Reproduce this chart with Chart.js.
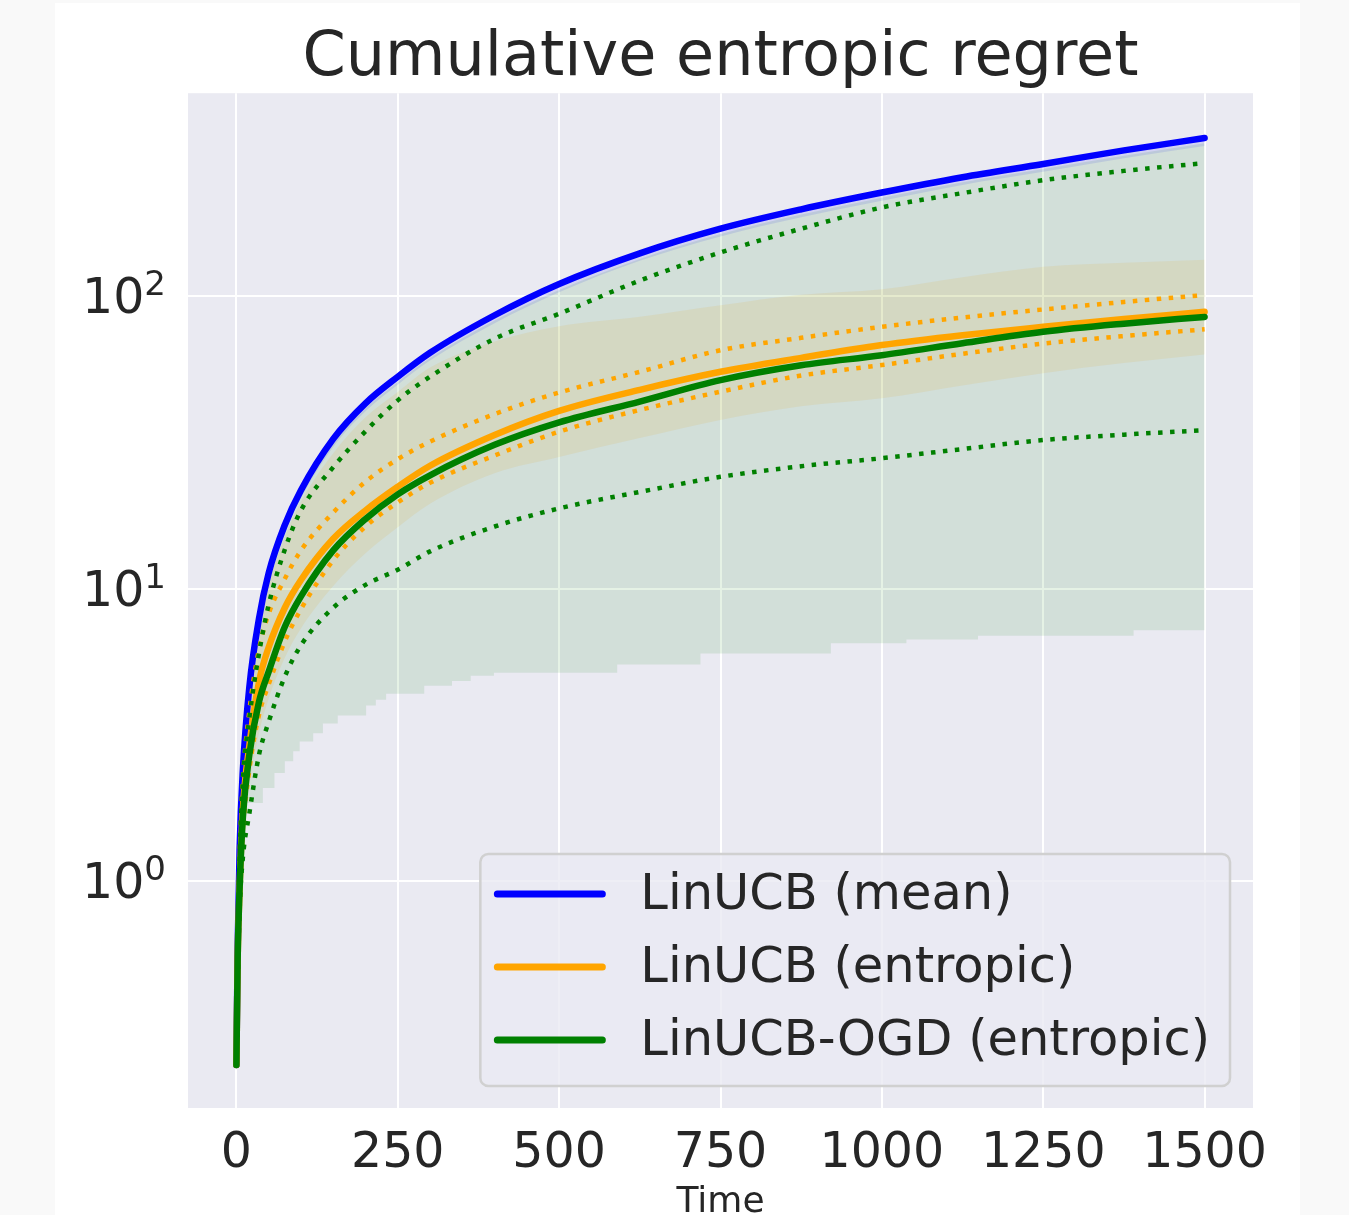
<!DOCTYPE html>
<html>
<head>
<meta charset="utf-8">
<title>Cumulative entropic regret</title>
<script src="https://cdn.jsdelivr.net/npm/chart.js@4.4.0/dist/chart.umd.min.js"></script>
<style>
  html, body { margin: 0; padding: 0; background: #f9f9f9; }
  #wrap { width: 1349px; height: 1215px; }
</style>
</head>
<body>
<div id="wrap"><canvas id="regret-chart" width="1349" height="1215"></canvas></div>
<script>
// time steps the curves were read at
const timeSteps = [0, 2, 5, 10, 20, 35, 50, 75, 100, 150, 200, 250, 300, 400, 500, 625, 750, 875, 1000, 1125, 1250, 1375, 1500];

// LinUCB (mean)
const meanLine     = [0.235, 0.6, 1.3, 2.4, 4.6, 7.9, 11.3, 16.5, 21.7, 32.5, 43, 53, 64, 86, 110, 140, 170, 198, 226, 255, 283, 315, 347];
const meanBandLow  = [0.235, 0.56, 1.22, 2.25, 4.3, 7.4, 10.6, 15.5, 20.4, 30.5, 40.4, 49.8, 60.2, 80.8, 103, 132, 160, 186, 212, 240, 266, 296, 326];

// LinUCB (entropic)
const entLine      = [0.235, 0.55, 0.95, 1.75, 2.9, 4.8, 6.3, 8.6, 10.7, 14.8, 18.5, 22.3, 26.3, 33.5, 40.5, 47.8, 55.1, 61.5, 68, 73.5, 78.5, 83.5, 88.4];
const entDotUp     = [0.235, 0.6, 1.2, 2.2, 3.8, 6.2, 8.2, 10.8, 13.5, 18.2, 23.2, 27.7, 31.8, 39.5, 46.8, 55.1, 65.3, 72, 78.5, 84.5, 90, 95.5, 100.8];
const entDotLow    = [0.235, 0.5, 0.85, 1.45, 2.4, 3.7, 4.7, 6.6, 8.5, 12.5, 16.3, 19.7, 23.0, 28.5, 34.4, 40.8, 47.1, 53.5, 58.1, 63.5, 68.8, 73, 77];
const entBandHigh  = [0.235, 0.6, 1.25, 2.3, 4.3, 7.3, 10.3, 15, 19.8, 29, 38.5, 47, 57, 70, 78.9, 85, 93, 101, 105.5, 116, 126, 130, 133];
const entBandLow   = [0.235, 0.45, 0.8, 1.3, 2.1, 3.2, 4.2, 5.8, 7.3, 10.2, 13.2, 16.2, 19.5, 24.8, 28.2, 32.7, 37.7, 42, 44.7, 49.5, 54.5, 59, 63.2];

// LinUCB-OGD (entropic)
const ogdLine      = [0.235, 0.55, 0.95, 1.65, 2.7, 4.1, 5.2, 7.4, 9.4, 13.5, 17.3, 21.0, 24.4, 31.0, 37, 43.6, 51.6, 58, 62.8, 69, 75.5, 80.5, 84.9];
const ogdDotUp     = [0.235, 0.6, 1.2, 2.2, 3.6, 6.0, 8.8, 13.6, 18.5, 26, 34.5, 44, 53, 71.5, 87, 113, 141, 170, 201, 225, 249, 268, 285];
const ogdDotLow    = [0.235, 0.45, 0.8, 1.2, 1.7, 2.7, 3.5, 5.0, 6.4, 8.6, 10.3, 11.6, 13.4, 16.3, 18.8, 21.4, 24.1, 26.2, 27.9, 30, 32.2, 33.6, 34.8];
const ogdBandHigh  = [0.235, 0.58, 1.25, 2.3, 4.4, 7.6, 10.8, 15.8, 20.8, 31.2, 41.3, 50.8, 61.4, 82.5, 105, 134, 163, 190, 217, 245, 272, 302, 333];
const ogdLowTimes  = [0, 5, 10, 15, 41, 59, 75, 88, 98, 119, 134, 157, 201, 216, 232, 291, 334, 363, 399, 590, 719, 921, 1038, 1149, 1390, 1480, 1500];
const ogdBandLow   = [0.235, 0.8, 1.2, 1.63, 1.85, 2.08, 2.34, 2.57, 2.78, 3.0, 3.2, 3.46, 3.68, 3.98, 4.17, 4.37, 4.65, 4.83, 5.03, 5.15, 5.5, 6.0, 6.5, 6.7, 6.9, 7.2, 7.2];

const xTicks = [0, 250, 500, 750, 1000, 1250, 1500];
const yTickValues = [1, 10, 100];
const yTickBase = '10';
const yTickExponents = ['0', '1', '2'];

const FONT = '"DejaVu Sans", sans-serif';
const TEXT = '#262626';
const BLUE = '#0000ff', ORANGE = '#ffa500', GREEN = '#008000';
const NONE = 'rgba(0,0,0,0)';

const pts = (ys, xs = timeSteps) => xs.map((x, i) => ({ x: x, y: ys[i] }));

function meanSet(label, ys, color, order) {
  return { label: label, data: pts(ys), borderColor: color, backgroundColor: color, borderWidth: 6.5,
    borderCapStyle: 'round', cubicInterpolationMode: 'monotone', fill: false, order: order };
}
function dotSet(ys, color, order) {
  return { data: pts(ys), borderColor: color, borderWidth: 4.5, borderDash: [4.5, 7.5],
    borderCapStyle: 'butt', cubicInterpolationMode: 'monotone', fill: false, order: order };
}
function edgeSet(ys, order, extra) {
  return Object.assign({ data: pts(ys), borderColor: NONE, borderWidth: 1,
    cubicInterpolationMode: 'monotone', fill: false, order: order }, extra || {});
}

const plotBackground = {
  id: 'plotBackground',
  beforeDraw(chart) {
    const { ctx, chartArea: a } = chart;
    ctx.save();
    ctx.fillStyle = '#ffffff';
    ctx.fillRect(55, 3, 1245, chart.height - 3);
    ctx.fillStyle = '#eaeaf2';
    ctx.fillRect(a.left, a.top, a.right - a.left, a.bottom - a.top);
    ctx.restore();
  }
};

// y tick labels as 10 with a raised exponent, like the original
const yPowerLabels = {
  id: 'yPowerLabels',
  afterDraw(chart) {
    const { ctx } = chart;
    const s = chart.scales.y;
    ctx.save();
    ctx.fillStyle = TEXT;
    ctx.textAlign = 'right';
    ctx.textBaseline = 'alphabetic';
    s.ticks.forEach((t, i) => {
      const py = s.getPixelForValue(t.value);
      const right = s.right - 22;
      ctx.font = '34px ' + FONT;
      const ew = ctx.measureText(yTickExponents[i]).width;
      ctx.fillText(yTickExponents[i], right, py - 1);
      ctx.font = '49px ' + FONT;
      ctx.fillText(yTickBase, right - ew, py + 17);
    });
    ctx.restore();
  }
};

const boxLegend = {
  id: 'boxLegend',
  afterDraw(chart) {
    const { ctx, chartArea: a } = chart;
    const entries = chart.data.datasets.filter(d => d.label);
    ctx.save();
    ctx.font = '49.5px ' + FONT;
    const textW = Math.max(...entries.map(e => ctx.measureText(e.label).width));
    const w = 160 + textW + 20, h = 232;
    const x0 = a.right - 23 - w, y0 = a.bottom - 22 - h;
    ctx.beginPath();
    ctx.roundRect(x0, y0, w, h, 8);
    ctx.fillStyle = 'rgba(234,234,242,0.8)';
    ctx.fill();
    ctx.lineWidth = 2.5;
    ctx.strokeStyle = '#d0d0d0';
    ctx.stroke();
    entries.forEach((e, i) => {
      const cy = y0 + 40 + i * 73;
      ctx.beginPath();
      ctx.moveTo(x0 + 17, cy);
      ctx.lineTo(x0 + 122, cy);
      ctx.lineWidth = 7;
      ctx.lineCap = 'round';
      ctx.strokeStyle = e.borderColor;
      ctx.stroke();
      ctx.fillStyle = TEXT;
      ctx.textBaseline = 'middle';
      ctx.textAlign = 'left';
      ctx.fillText(e.label, x0 + 160, cy + 2);
    });
    ctx.restore();
  }
};

new Chart(document.getElementById('regret-chart'), {
  type: 'line',
  data: {
    datasets: [
      meanSet('LinUCB (mean)', meanLine, BLUE, 6),
      meanSet('LinUCB (entropic)', entLine, ORANGE, 3),
      meanSet('LinUCB-OGD (entropic)', ogdLine, GREEN, 0),
      dotSet(entDotUp, ORANGE, 4),
      dotSet(entDotLow, ORANGE, 5),
      dotSet(ogdDotUp, GREEN, 1),
      dotSet(ogdDotLow, GREEN, 2),
      edgeSet(meanBandLow, 14),
      edgeSet(meanLine, 13, { fill: '-1', backgroundColor: 'rgba(0,0,255,0.1)' }),
      edgeSet(entBandLow, 12),
      edgeSet(entBandHigh, 11, { fill: '-1', backgroundColor: 'rgba(255,165,0,0.1)' }),
      { data: pts(ogdBandLow, ogdLowTimes), borderColor: NONE, borderWidth: 1, stepped: 'after', fill: false, order: 10 },
      edgeSet(ogdBandHigh, 9, { fill: '-1', backgroundColor: 'rgba(0,128,0,0.1)' })
    ]
  },
  options: {
    responsive: false,
    animation: false,
    devicePixelRatio: 1,
    layout: { padding: { left: 0, right: 96, top: 0, bottom: 0 } },
    elements: { point: { radius: 0, hoverRadius: 0 }, line: { borderJoinStyle: 'round' } },
    plugins: {
      legend: { display: false },
      tooltip: { enabled: false },
      filler: { drawTime: 'beforeDatasetsDraw' },
      title: {
        display: true,
        fullSize: false,
        text: 'Cumulative entropic regret',
        color: TEXT,
        font: { family: FONT, size: 62, weight: 'normal', lineHeight: 1.1 },
        padding: { top: 25, bottom: 0 }
      }
    },
    scales: {
      x: {
        type: 'linear',
        min: -75,
        max: 1575,
        afterBuildTicks: (s) => { s.ticks = xTicks.map(v => ({ value: v })); },
        afterFit: (s) => { s.height = 107; },
        border: { display: false },
        grid: { color: '#ffffff', lineWidth: 2, drawTicks: false },
        ticks: { color: TEXT, font: { family: FONT, size: 49 }, padding: 17, maxRotation: 0,
          callback: (v) => String(v) },
        title: { display: true, text: 'Time', color: TEXT,
          font: { family: FONT, size: 36, lineHeight: 0.8 }, padding: { top: 0, bottom: -2 } }
      },
      y: {
        type: 'logarithmic',
        min: 0.1675,
        max: 494,
        afterBuildTicks: (s) => { s.ticks = yTickValues.map(v => ({ value: v })); },
        afterFit: (s) => { s.width = 188; },
        border: { display: false },
        grid: { color: '#ffffff', lineWidth: 2, drawTicks: false },
        ticks: { display: false }
      }
    }
  },
  plugins: [plotBackground, yPowerLabels, boxLegend]
});
</script>
</body>
</html>
